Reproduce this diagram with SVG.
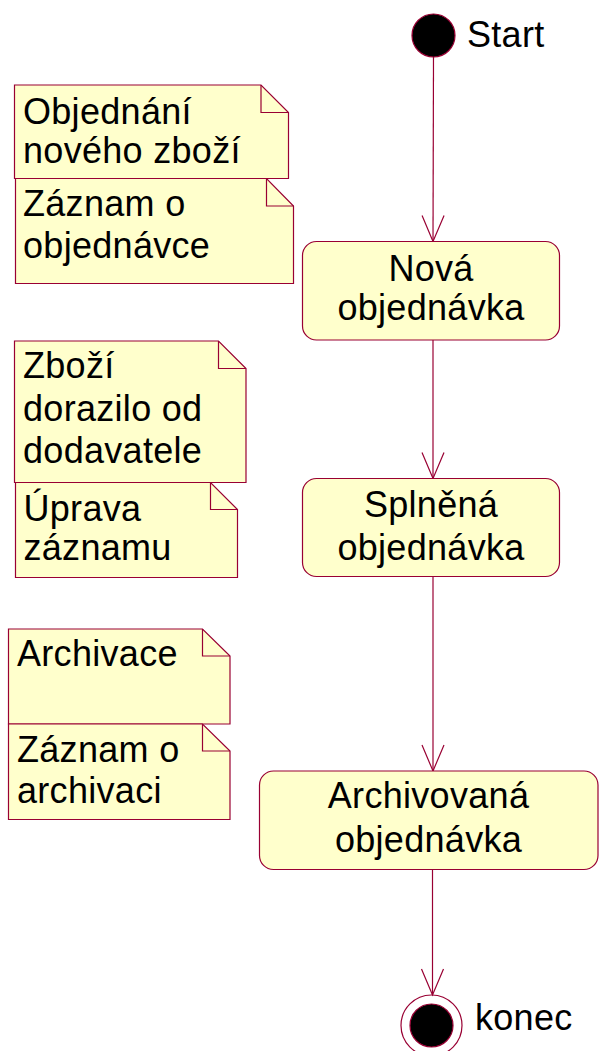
<svg xmlns="http://www.w3.org/2000/svg" width="599" height="1051" viewBox="0 0 599 1051">
<style>
.note{fill:#FFFFCC;stroke:#990033;stroke-width:1.2}
.fold{fill:none;stroke:#990033;stroke-width:1.2}
.state{fill:#FFFFCC;stroke:#990033;stroke-width:1.2}
.t{font-family:"Liberation Sans",Arial,sans-serif;font-size:36px;letter-spacing:0.3px;fill:#000}
.c{text-anchor:middle}
.edge{fill:none;stroke:#990033;stroke-width:1.2}
</style>
<defs>
<marker id="arr" markerUnits="userSpaceOnUse" markerWidth="30" markerHeight="30" viewBox="-28 -13 30 26" refX="0" refY="0" orient="auto">
<path d="M-26,-11 L0,0 L-26,11" fill="none" stroke="#990033" stroke-width="1.2"/>
</marker>
</defs>
<rect width="599" height="1051" fill="#fff"/>
<g id="connectors">
<line class="edge" x1="433.5" y1="57" x2="433" y2="241.5" marker-end="url(#arr)"/>
<line class="edge" x1="433" y1="340" x2="433" y2="478.5" marker-end="url(#arr)"/>
<line class="edge" x1="433" y1="577" x2="433" y2="771" marker-end="url(#arr)"/>
<line class="edge" x1="432.5" y1="869.5" x2="432.5" y2="995" marker-end="url(#arr)"/>
</g>
<g id="start">
<circle cx="433.5" cy="35.5" r="21.5" fill="#000" stroke="#990033" stroke-width="1.2"/>
<text class="t" x="467" y="47">Start</text>
</g>
<g id="note1">
<path class="note" d="M14.5,85 H261 L288.5,112.5 V178.5 H14.5 Z"/>
<path class="fold" d="M261,85 V112.5 H288.5"/>
<text class="t" x="23" y="124">Objednání</text>
<text class="t" x="23" y="163">nového zboží</text>
</g>
<g id="note2">
<path class="note" d="M15.5,178.5 H266.5 L293.5,206 V283.5 H15.5 Z"/>
<path class="fold" d="M266.5,178.5 V206 H293.5"/>
<text class="t" x="23" y="216">Záznam o</text>
<text class="t" x="23" y="258">objednávce</text>
</g>
<g id="note3">
<path class="note" d="M14.5,341 H218.5 L246,368.5 V482.5 H14.5 Z"/>
<path class="fold" d="M218.5,341 V368.5 H246"/>
<text class="t" x="23" y="378">Zboží</text>
<text class="t" x="23" y="421">dorazilo od</text>
<text class="t" x="23" y="463">dodavatele</text>
</g>
<g id="note4">
<path class="note" d="M15.5,482.5 H210.5 L237.5,509.5 V577.5 H15.5 Z"/>
<path class="fold" d="M210.5,482.5 V509.5 H237.5"/>
<text class="t" x="23.5" y="520.5">Úprava</text>
<text class="t" x="23.5" y="560">záznamu</text>
</g>
<g id="note5">
<path class="note" d="M8.5,629 H202.5 L230,656 V724 H8.5 Z"/>
<path class="fold" d="M202.5,629 V656 H230"/>
<text class="t" x="17" y="665.5">Archivace</text>
</g>
<g id="note6">
<path class="note" d="M8.5,724 H202.5 L230,751 V819.5 H8.5 Z"/>
<path class="fold" d="M202.5,724 V751 H230"/>
<text class="t" x="17" y="761.5">Záznam o</text>
<text class="t" x="17" y="803">archivaci</text>
</g>
<g id="state1">
<rect class="state" x="302.5" y="241.5" width="257" height="98.5" rx="14" ry="14"/>
<text class="t c" x="431" y="280.5">Nová</text>
<text class="t c" x="431" y="320">objednávka</text>
</g>
<g id="state2">
<rect class="state" x="302.5" y="478.5" width="257" height="98" rx="14" ry="14"/>
<text class="t c" x="431" y="516.5">Splněná</text>
<text class="t c" x="431" y="560">objednávka</text>
</g>
<g id="state3">
<rect class="state" x="259.5" y="771" width="338.5" height="98.5" rx="14" ry="14"/>
<text class="t c" x="428.5" y="808">Archivovaná</text>
<text class="t c" x="428.5" y="851.5">objednávka</text>
</g>
<g id="end">
<circle cx="431.5" cy="1025.5" r="30.5" fill="none" stroke="#990033" stroke-width="1.2"/>
<circle cx="431.5" cy="1025.5" r="21.5" fill="#000" stroke="#990033" stroke-width="1.2"/>
<text class="t" x="475" y="1030">konec</text>
</g>
</svg>
